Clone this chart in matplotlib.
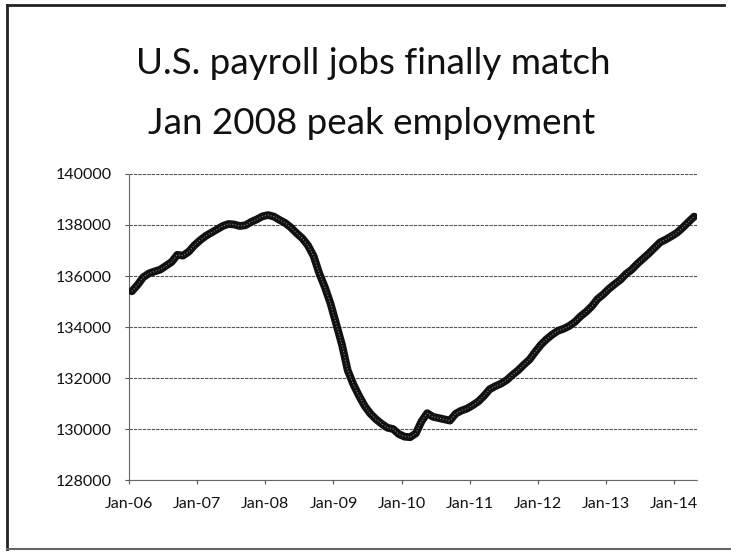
import numpy as np
import matplotlib.pyplot as plt
from matplotlib.lines import Line2D

# Total nonfarm payroll jobs (thousands), monthly Jan 2006 - Apr 2014
jobs_2006 = [135400, 135650, 135950, 136100, 136180, 136250, 136400, 136550, 136830, 136800, 136950, 137200]
jobs_2007 = [137400, 137570, 137700, 137830, 137960, 138040, 138020, 137960, 137990, 138120, 138220, 138340]
jobs_2008 = [138390, 138330, 138200, 138080, 137900, 137680, 137480, 137200, 136780, 136100, 135550, 134900]
jobs_2009 = [134100, 133300, 132300, 131750, 131300, 130900, 130600, 130380, 130200, 130050, 130000, 129800]
jobs_2010 = [129700, 129680, 129830, 130300, 130620, 130480, 130430, 130380, 130330, 130600, 130720, 130800]
jobs_2011 = [130930, 131080, 131300, 131560, 131680, 131780, 131920, 132120, 132300, 132520, 132720, 133020]
jobs_2012 = [133300, 133520, 133700, 133850, 133930, 134040, 134200, 134420, 134600, 134820, 135100, 135280]
jobs_2013 = [135500, 135680, 135850, 136080, 136250, 136480, 136680, 136880, 137100, 137320, 137430, 137560]
jobs_2014 = [137700, 137900, 138120, 138330]

year_labels = ['Jan-06', 'Jan-07', 'Jan-08', 'Jan-09', 'Jan-10',
               'Jan-11', 'Jan-12', 'Jan-13', 'Jan-14']
y_ticks = [128000, 130000, 132000, 134000, 136000, 138000, 140000]

jobs = (jobs_2006 + jobs_2007 + jobs_2008 + jobs_2009 + jobs_2010
        + jobs_2011 + jobs_2012 + jobs_2013 + jobs_2014)
months = np.arange(len(jobs)) + 0.5  # points sit between category ticks

plt.rcParams['font.family'] = ['Lato', 'DejaVu Sans']

fig = plt.figure(figsize=(7.31, 5.52), dpi=100)
ax = fig.add_axes([0.1765, 0.1304, 0.777, 0.5544])

ax.plot(months, jobs, color='#111111', linewidth=5.6, solid_capstyle='round',
        solid_joinstyle='round', zorder=3)
ax.plot(months, jobs, color='#9a9a9a', linewidth=0.7, linestyle=(0, (1, 2)), zorder=4)

ax.set_xlim(0, len(jobs))
ax.set_ylim(128000, 140000)
ax.set_xticks(np.arange(len(year_labels)) * 12)
ax.set_xticklabels(year_labels)
ax.set_yticks(y_ticks)
ax.set_yticklabels([str(v) for v in y_ticks])

ax.grid(axis='y', color='#555555', linewidth=0.8, linestyle=(0, (3, 1)))
ax.set_axisbelow(True)
for side in ['top', 'right']:
    ax.spines[side].set_visible(False)
for side in ['left', 'bottom']:
    ax.spines[side].set_color('#666666')
    ax.spines[side].set_linewidth(0.8)
    ax.spines[side].set_linestyle((0, (3, 1)))

ax.tick_params(axis='both', colors='#555555', length=3, width=0.8, labelsize=11.5,
               labelcolor='#111111')
ax.tick_params(axis='x', pad=9)
ax.tick_params(axis='y', pad=9.5)

fig.text(0.510, 0.866, 'U.S. payroll jobs finally match', ha='center', va='baseline',
         fontsize=26.5, color='#111111')
fig.text(0.508, 0.758, 'Jan 2008 peak employment', ha='center', va='baseline',
         fontsize=26.5, color='#111111')

# chart border (left, top, bottom edges visible in the scan)
fig.add_artist(Line2D([0.0096, 0.0096], [0.006, 0.991], color='#222222', linewidth=2))
fig.add_artist(Line2D([0.0096, 0.99], [0.991, 0.991], color='#222222', linewidth=2))
fig.add_artist(Line2D([0.0096, 1.0], [0.006, 0.006], color='#666666', linewidth=1.5))

fig.savefig('out.png', dpi=100)
